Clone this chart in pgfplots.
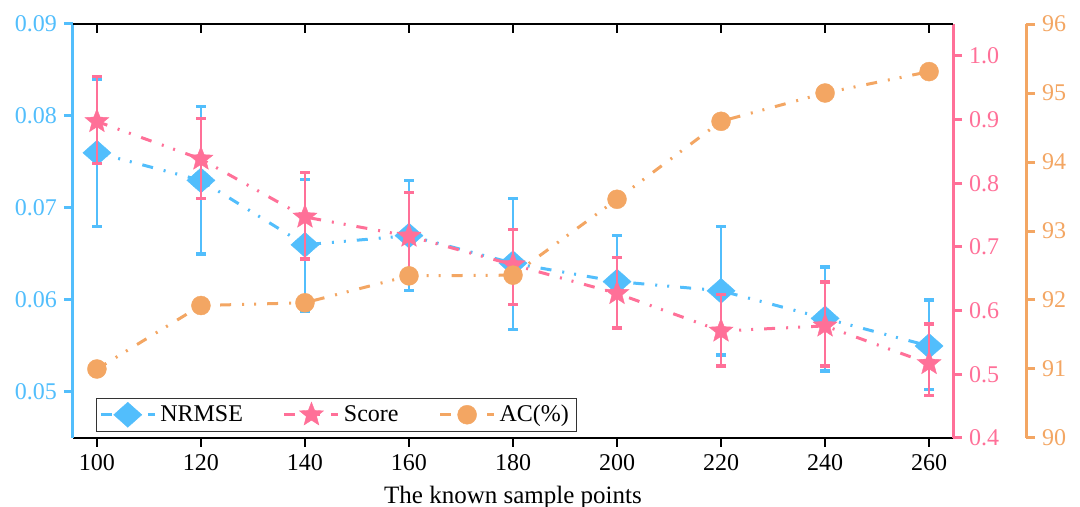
\documentclass[border=0pt]{standalone}
\usepackage{fontspec}
\setmainfont{Liberation Serif}
\usepackage{pgfplots}
\pgfplotsset{compat=1.18}
\usepackage{pgfplotstable}

\definecolor{cblue}{RGB}{82,190,252}
\definecolor{cpink}{RGB}{255,112,152}
\definecolor{corange}{RGB}{243,166,99}

\pgfdeclareplotmark{fstar}{%
  \pgfpathmoveto{\pgfpointpolar{90}{\pgfplotmarksize}}%
  \pgfpathlineto{\pgfpointpolar{126}{0.43\pgfplotmarksize}}%
  \pgfpathlineto{\pgfpointpolar{162}{\pgfplotmarksize}}%
  \pgfpathlineto{\pgfpointpolar{198}{0.43\pgfplotmarksize}}%
  \pgfpathlineto{\pgfpointpolar{234}{\pgfplotmarksize}}%
  \pgfpathlineto{\pgfpointpolar{270}{0.43\pgfplotmarksize}}%
  \pgfpathlineto{\pgfpointpolar{306}{\pgfplotmarksize}}%
  \pgfpathlineto{\pgfpointpolar{342}{0.43\pgfplotmarksize}}%
  \pgfpathlineto{\pgfpointpolar{18}{\pgfplotmarksize}}%
  \pgfpathlineto{\pgfpointpolar{54}{0.43\pgfplotmarksize}}%
  \pgfpathclose
  \pgfusepathqfillstroke
}

\tikzset{ddot/.style={dash pattern=on 5.5pt off 5.5pt on 1pt off 5pt on 1pt off 5.5pt}}

\pgfplotstableread{
x y
100 0.076
120 0.073
140 0.066
160 0.067
180 0.064
200 0.062
220 0.061
240 0.058
260 0.055
}\nrmse

\pgfplotstableread{
x y
100 0.897
120 0.838
140 0.747
160 0.717
180 0.672
200 0.627
220 0.568
240 0.576
260 0.517
}\score

\pgfplotstableread{
x y
100 91.00
120 91.92
140 91.96
160 92.35
180 92.36
200 93.46
220 94.59
240 95.00
260 95.31
}\acc

\pgfplotsset{
  common/.style={
    width=440pt, height=207pt, scale only axis,
    xmin=95.4, xmax=264.6,
    tick label style={font=\fontsize{12}{14}\selectfont},
    /pgf/number format/assume math mode=true,
    major tick length=4.5pt,
    scaled y ticks=false,
  },
  nstyle/.style={cblue, line width=1.5pt, ddot, mark=diamond*, mark size=6.25pt,
    mark options={solid, xscale=1.5, fill=cblue, draw=cblue, line width=0.2pt}},
  sstyle/.style={cpink, line width=1.5pt, ddot, mark=fstar, mark size=6.3pt,
    mark options={solid, fill=cpink, draw=cpink, line width=0.2pt}},
  astyle/.style={corange, line width=1.5pt, ddot, mark=*, mark size=4.75pt,
    mark options={solid, fill=corange, draw=corange, line width=0.2pt}},
}

\begin{document}
\begin{tikzpicture}
% NRMSE (left axis)
\begin{axis}[common,
  axis x line*=bottom, axis y line*=left,
  ymin=0.045, ymax=0.09,
  xtick={100,120,...,260},
  ytick={0.05,0.06,0.07,0.08,0.09},
  yticklabel style={/pgf/number format/fixed, /pgf/number format/precision=2,
    /pgf/number format/fixed zerofill, text=cblue},
  tick align=outside,
  x axis line style={-, black, line width=0.75pt},
  y axis line style={-, cblue, line width=1.5pt},
  xtick style={black, line width=0.75pt},
  ytick style={cblue, line width=1.5pt},
  xlabel={The known sample points},
  xlabel style={font=\fontsize{12.5}{15}\selectfont, yshift=-1pt},
]
\coordinate (sw) at (rel axis cs:0,0);
\coordinate (ne) at (rel axis cs:1,1);
\addplot[nstyle] table[x=x, y=y]{\nrmse};
% error bars of NRMSE: low and high ends
\addplot[cblue, line width=1.35pt, unbounded coords=jump, forget plot] coordinates {
 (100,0.0680) (100,0.0840) (100,nan)
 (120,0.0650) (120,0.0810) (120,nan)
 (140,0.0588) (140,0.0731) (140,nan)
 (160,0.0610) (160,0.0730) (160,nan)
 (180,0.0568) (180,0.0710) (180,nan)
 (200,0.0570) (200,0.0670) (200,nan)
 (220,0.0540) (220,0.0680) (220,nan)
 (240,0.0523) (240,0.0636) (240,nan)
 (260,0.0503) (260,0.0600)
};
\addplot[cblue, only marks, mark=-, mark size=2.5pt, mark options={line width=1.7pt}, forget plot] coordinates {
 (100,0.0680) (100,0.0840) (120,0.0650) (120,0.0810) (140,0.0588) (140,0.0731)
 (160,0.0610) (160,0.0730) (180,0.0568) (180,0.0710) (200,0.0570) (200,0.0670)
 (220,0.0540) (220,0.0680) (240,0.0523) (240,0.0636) (260,0.0503) (260,0.0600)
};
\end{axis}

% Score (right axis)
\begin{axis}[common,
  hide x axis, axis y line*=right,
  ymin=0.4, ymax=1.05,
  ytick={0.4,0.5,0.6,0.7,0.8,0.9,1.0},
  yticklabel style={/pgf/number format/fixed, /pgf/number format/precision=1,
    /pgf/number format/fixed zerofill, text=cpink},
  tick align=outside,
  y axis line style={-, cpink, line width=1.5pt},
  ytick style={cpink, line width=1.5pt},
]
\addplot[sstyle] table[x=x, y=y]{\score};
% error bars of Score: low and high ends
\addplot[cpink, line width=1.35pt, unbounded coords=jump, forget plot] coordinates {
 (100,0.831) (100,0.968) (100,nan)
 (120,0.776) (120,0.902) (120,nan)
 (140,0.681) (140,0.817) (140,nan)
 (160,0.650) (160,0.785) (160,nan)
 (180,0.610) (180,0.727) (180,nan)
 (200,0.573) (200,0.683) (200,nan)
 (220,0.513) (220,0.625) (220,nan)
 (240,0.513) (240,0.645) (240,nan)
 (260,0.467) (260,0.579)
};
\addplot[cpink, only marks, mark=-, mark size=2.5pt, mark options={line width=1.7pt}, forget plot] coordinates {
 (100,0.831) (100,0.968) (120,0.776) (120,0.902) (140,0.681) (140,0.817)
 (160,0.650) (160,0.785) (180,0.610) (180,0.727) (200,0.573) (200,0.683)
 (220,0.513) (220,0.625) (240,0.513) (240,0.645) (260,0.467) (260,0.579)
};
\end{axis}

% AC (offset right axis)
\begin{axis}[common,
  hide x axis, axis y line*=right,
  ymin=90, ymax=96,
  ytick={90,91,...,96},
  yticklabel style={text=corange, xshift=36.5pt},
  tick align=outside,
  y axis line style={-, corange, line width=1.5pt, xshift=36.5pt},
  ytick style={corange, line width=1.5pt, xshift=36.5pt},
  legend columns=3,
  legend style={at={(axis description cs:0.026,0.0145)}, anchor=south west,
    draw=black!80, font=\fontsize{12}{14.5}\selectfont,
    inner sep=1.5pt,
    /tikz/every even column/.append style={column sep=18pt}},
  legend image code/.code={%
    \draw[mark repeat=2,mark phase=2,#1] plot coordinates {(0pt,0pt) (13.5pt,0pt) (27pt,0pt)};},
]
\addlegendimage{nstyle}
\addlegendimage{sstyle}
\addplot[astyle] table[x=x, y=y]{\acc};
\legend{NRMSE, Score, AC(\%)}
\end{axis}

% top frame
\begin{axis}[common,
  hide y axis, axis x line*=top,
  ymin=0, ymax=1,
  xtick={100,120,...,260}, xticklabels={},
  tick align=inside,
  x axis line style={-, black, line width=0.75pt},
  xtick style={black, line width=0.75pt},
]
\end{axis}

\pgfresetboundingbox
\path ([xshift=-36.5pt,yshift=-34.5pt]sw) rectangle ([xshift=63.5pt,yshift=12pt]ne);
\end{tikzpicture}
\end{document}
